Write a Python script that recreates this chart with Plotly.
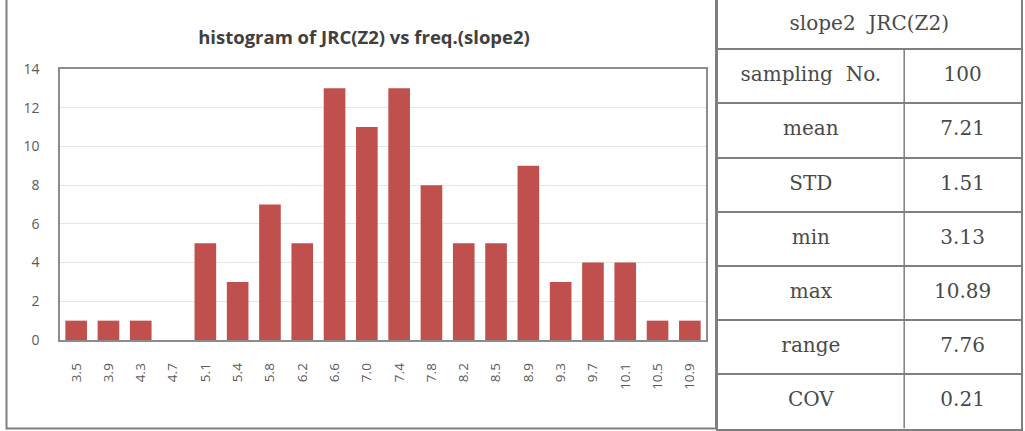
import plotly.graph_objects as go

W, H = 1025, 431

categories = ["3.5", "3.9", "4.3", "4.7", "5.1", "5.4", "5.8", "6.2", "6.6", "7.0",
              "7.4", "7.8", "8.2", "8.5", "8.9", "9.3", "9.7", "10.1", "10.5", "10.9"]
freq = [1, 1, 1, 0, 5, 3, 7, 5, 13, 11, 13, 8, 5, 5, 9, 3, 4, 4, 1, 1]
y_ticks = [0, 2, 4, 6, 8, 10, 12, 14]

title_text = "histogram of JRC(Z2) vs freq.(slope2)"
table_title = "slope2  JRC(Z2)"
stat_names = ["sampling  No.", "mean", "STD", "min", "max", "range", "COV"]
stat_values = ["100", "7.21", "1.51", "3.13", "10.89", "7.76", "0.21"]

def px_x(p):
    return p / W

def px_y(p):
    return 1 - p / H

fig = go.Figure()

fig.add_trace(go.Bar(
    x=categories, y=freq,
    marker=dict(color="#C0504D", line=dict(width=0)),
    showlegend=False,
))

# ---- statistics table, drawn on its own axes (rows / columns as units) ----
n_rows = len(stat_names)
head_units = 49 / 54          # header row is slightly shorter than body rows
col_split = 187 / 304         # relative width of the first column
line_col = "#7f7f7f"
tfont = dict(family="DejaVu Serif, serif", size=20, color="#4a4a4a")

row_centres = [i + 0.5 for i in range(n_rows)]
fig.add_trace(go.Scatter(
    x=[col_split / 2] * n_rows, y=row_centres, text=stat_names,
    mode="text", textfont=tfont, textposition="middle center",
    xaxis="x2", yaxis="y2", showlegend=False, hoverinfo="skip",
))
fig.add_trace(go.Scatter(
    x=[(1 + col_split) / 2] * n_rows, y=row_centres, text=stat_values,
    mode="text", textfont=tfont, textposition="middle center",
    xaxis="x2", yaxis="y2", showlegend=False, hoverinfo="skip",
))
fig.add_trace(go.Scatter(
    x=[0.5], y=[-head_units / 2], text=[table_title],
    mode="text", textfont=tfont, textposition="middle center",
    xaxis="x2", yaxis="y2", showlegend=False, hoverinfo="skip",
))
fig.add_shape(type="line", xref="x2", yref="y2",
              x0=col_split, x1=col_split, y0=0, y1=n_rows,
              line=dict(color=line_col, width=1.5))

# outer frame of the chart panel
fig.add_shape(type="rect", xref="paper", yref="paper",
              x0=px_x(6.5), x1=px_x(716), y0=px_y(428.5), y1=1.02,
              line=dict(color=line_col, width=2), fillcolor="rgba(0,0,0,0)", layer="below")

fig.update_layout(
    width=W, height=H,
    margin=dict(l=0, r=0, t=0, b=0, autoexpand=False),
    paper_bgcolor="white", plot_bgcolor="white",
    bargap=0.33,
    title=dict(text="<b>" + title_text + "</b>", x=px_x(364), xanchor="center",
               y=px_y(38), yanchor="middle", automargin=False,
               font=dict(family="Open Sans, sans-serif", size=18.5, color="#404040")),
    xaxis=dict(domain=[px_x(60), px_x(706)], type="category", automargin=False,
               showline=True, mirror=True, linecolor="#8c8c8c", linewidth=1.5,
               showgrid=False, ticks="", tickangle=-90, ticklabelstandoff=16,
               tickfont=dict(family="Open Sans, sans-serif", size=13.5, color="#595959")),
    yaxis=dict(domain=[px_y(340), px_y(69)], range=[0, 14], tickvals=y_ticks, automargin=False,
               showline=True, mirror=True, linecolor="#8c8c8c", linewidth=1.5,
               showgrid=True, gridcolor="#e6e6e6", gridwidth=1, zeroline=False,
               ticks="", ticklabelstandoff=16,
               tickfont=dict(family="Open Sans, sans-serif", size=14, color="#595959")),
    xaxis2=dict(domain=[px_x(717.5), px_x(1021)], range=[0, 1], anchor="y2",
                showline=True, mirror=False, linecolor=line_col, linewidth=1.5,
                showgrid=False, zeroline=False, showticklabels=False, ticks="",
                fixedrange=True, automargin=False),
    yaxis2=dict(domain=[px_y(428.5), 1], range=[n_rows, -head_units], anchor="x2",
                showline=True, mirror=True, linecolor=line_col, linewidth=1.5,
                tickvals=list(range(n_rows)), showgrid=True, gridcolor=line_col, gridwidth=1.5,
                zeroline=False, showticklabels=False, ticks="",
                fixedrange=True, automargin=False),
)

fig.write_html("out.html")
